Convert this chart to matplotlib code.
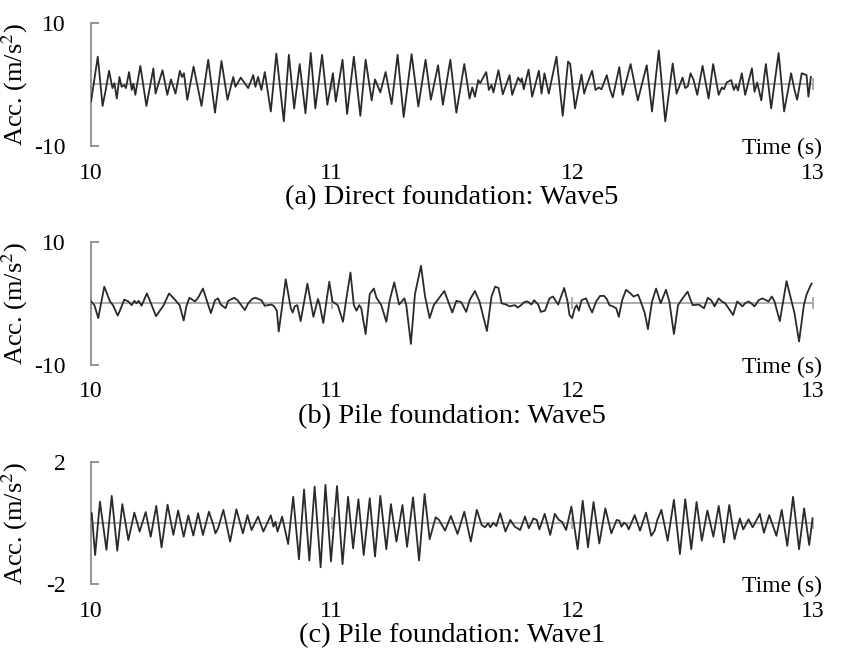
import matplotlib
matplotlib.use("Agg")
import matplotlib.pyplot as plt

plt.rcParams["font.family"] = ["Liberation Serif", "DejaVu Serif"]
plt.rcParams["mathtext.fontset"] = "stix"
plt.rcParams["axes.unicode_minus"] = False

# ---- data (turning points of each record) ----
# (a) Direct foundation: Wave5
t_a = [10.000, 10.028, 10.048, 10.061, 10.075, 10.089, 10.097, 10.107, 10.118, 10.127,
       10.138, 10.145, 10.158, 10.169, 10.176, 10.184, 10.205, 10.230, 10.259, 10.268,
       10.297, 10.317, 10.332, 10.351, 10.369, 10.378, 10.386, 10.400, 10.426, 10.459,
       10.487, 10.515, 10.542, 10.567, 10.591, 10.600, 10.622, 10.653, 10.674, 10.683,
       10.694, 10.708, 10.722, 10.747, 10.770, 10.801, 10.822, 10.844, 10.867, 10.891,
       10.913, 10.932, 10.960, 10.982, 11.005, 11.017, 11.045, 11.064, 11.092, 11.119,
       11.141, 11.166, 11.180, 11.202, 11.224, 11.249, 11.274, 11.299, 11.332, 11.360,
       11.390, 11.412, 11.442, 11.462, 11.493, 11.518, 11.551, 11.573, 11.584, 11.595,
       11.609, 11.617, 11.642, 11.653, 11.664, 11.672, 11.693, 11.711, 11.739, 11.750,
       11.775, 11.785, 11.790, 11.798, 11.818, 11.833, 11.861, 11.872, 11.884, 11.902,
       11.934, 11.960, 11.982, 11.991, 12.011, 12.038, 12.049, 12.060, 12.082, 12.096,
       12.110, 12.121, 12.143, 12.157, 12.168, 12.195, 12.209, 12.242, 12.272, 12.309,
       12.331, 12.359, 12.386, 12.417, 12.433, 12.458, 12.469, 12.480, 12.491, 12.503,
       12.519, 12.541, 12.566, 12.585, 12.608, 12.621, 12.630, 12.641, 12.660, 12.671,
       12.680, 12.688, 12.704, 12.718, 12.746, 12.757, 12.768, 12.785, 12.804, 12.826,
       12.857, 12.880, 12.909, 12.923, 12.934, 12.953, 12.973, 12.981, 12.991]
acc_a = [-2.8, 4.5, -3.5, -0.9, 2.2, -0.6, 0.2, -2.3, 1.2, -0.4,
         -0.1, -0.6, 2.0, -0.9, 0.1, -1.7, 3.0, -3.5, 2.6, -1.5,
         2.3, -1.7, 0.8, -1.5, 2.2, 1.2, 1.8, -2.5, 2.9, -3.5,
         4.0, -4.6, 3.8, -2.5, 1.2, -0.4, 1.1, -0.6, 1.5, -0.4,
         1.2, -0.9, 2.0, -4.4, 5.0, -6.0, 4.8, -3.9, 3.3, -4.7,
         5.1, -3.9, 4.8, -3.3, 1.8, -2.8, 4.0, -4.8, 4.5, -5.1,
         4.0, -2.6, 0.8, -1.3, 2.0, -3.2, 4.8, -5.3, 4.9, -3.6,
         4.0, -2.5, 3.1, -3.3, 4.0, -4.6, 3.3, -2.3, -0.5, -2.0,
         0.7, 0.2, 2.0, -0.9, -0.1, -1.3, 2.3, -1.6, 1.5, -1.7,
         1.1, 0.4, 1.0, -0.8, 2.4, -2.0, 2.2, -1.5, 1.8, -1.5,
         4.5, -5.1, 3.7, 3.3, -3.9, 1.6, -1.5, -0.1, 2.2, -0.9,
         -0.5, -0.8, 1.5, -0.9, -2.1, 2.8, -1.7, 3.3, -2.6, 3.1,
         -4.4, 5.5, -6.0, 3.4, -1.5, 1.1, -0.6, -0.3, 1.8, 0.8,
         -1.7, 3.0, -2.3, 3.3, -1.7, -0.5, -0.8, 0.3, 0.7, -0.9,
         -0.1, -1.0, 1.8, -1.7, 2.6, -1.2, 0.3, -2.6, 3.3, -3.9,
         5.1, -4.4, 1.8, -0.9, -2.5, 1.8, 1.5, -2.0, 1.2]

# (b) Pile foundation: Wave5
t_b = [10.000, 10.014, 10.030, 10.055, 10.079, 10.091, 10.111, 10.124, 10.138, 10.155,
       10.169, 10.180, 10.189, 10.198, 10.210, 10.232, 10.246, 10.270, 10.302, 10.324,
       10.346, 10.368, 10.385, 10.396, 10.409, 10.432, 10.445, 10.465, 10.498, 10.515,
       10.528, 10.539, 10.559, 10.570, 10.595, 10.609, 10.639, 10.653, 10.669, 10.683,
       10.708, 10.722, 10.750, 10.761, 10.772, 10.780, 10.809, 10.830, 10.838, 10.846,
       10.857, 10.871, 10.899, 10.924, 10.943, 10.950, 10.965, 10.990, 11.003, 11.025,
       11.047, 11.061, 11.078, 11.092, 11.103, 11.114, 11.123, 11.141, 11.158, 11.175,
       11.186, 11.206, 11.227, 11.241, 11.260, 11.280, 11.302, 11.310, 11.329, 11.346,
       11.371, 11.388, 11.407, 11.424, 11.468, 11.484, 11.501, 11.518, 11.538, 11.559,
       11.573, 11.595, 11.614, 11.645, 11.664, 11.679, 11.693, 11.706, 11.725, 11.739,
       11.761, 11.773, 11.787, 11.800, 11.814, 11.830, 11.841, 11.858, 11.869, 11.886,
       11.905, 11.919, 11.941, 11.966, 11.980, 11.988, 11.999, 12.010, 12.018, 12.027,
       12.038, 12.057, 12.068, 12.082, 12.099, 12.115, 12.132, 12.143, 12.154, 12.168,
       12.182, 12.193, 12.207, 12.223, 12.242, 12.254, 12.273, 12.284, 12.301, 12.314,
       12.331, 12.348, 12.367, 12.389, 12.403, 12.422, 12.439, 12.458, 12.479, 12.489,
       12.500, 12.525, 12.547, 12.563, 12.577, 12.591, 12.608, 12.621, 12.635, 12.668,
       12.685, 12.707, 12.718, 12.732, 12.743, 12.757, 12.774, 12.790, 12.815, 12.829,
       12.840, 12.862, 12.890, 12.906, 12.923, 12.942, 12.962, 12.973, 12.984, 12.994]
acc_b = [0.3, -0.3, -2.4, 2.7, 0.3, -0.3, -2.0, -0.8, 0.6, 0.3,
         -0.3, 0.4, 0.0, 0.4, -0.4, 1.6, 0.3, -2.1, -0.3, 1.6,
         0.7, -0.3, -2.8, -0.5, 0.9, 0.3, 0.9, 2.4, -1.6, 0.5,
         0.8, -0.2, -0.8, 0.4, 0.9, 0.5, -1.1, 0.0, 0.7, 0.9,
         0.5, -0.4, -0.2, -0.5, -1.2, -4.6, 3.9, -0.8, -1.5, -0.5,
         -0.3, -2.9, 3.2, -2.2, 0.7, -0.2, -3.2, 3.5, 0.3, -0.3,
         -3.0, 0.8, 5.0, -0.3, -1.2, -0.3, -0.8, -5.0, 1.5, 2.4,
         0.9, -0.3, -3.0, 0.5, 3.4, -0.2, 0.8, -0.3, -6.6, 1.5,
         6.1, 1.1, -2.4, -0.3, 2.0, 0.3, -1.5, 0.4, 0.2, -1.4,
         0.5, 2.0, 0.3, -4.5, 1.1, 2.7, 2.5, 0.0, -0.2, -0.5,
         -0.3, -0.7, -0.3, 0.2, 0.3, -0.2, 0.5, -0.2, -1.4, -1.2,
         0.8, 1.1, -0.2, 2.5, 0.3, -1.9, -2.4, -0.8, -0.3, -1.2,
         0.5, 0.8, -0.3, -1.5, 0.3, 1.2, 1.2, 0.7, -0.3, -0.5,
         -0.8, -2.2, 0.5, 2.2, 1.6, 1.1, 1.4, 0.3, -1.6, -4.2,
         0.3, 2.4, 0.0, 2.2, 0.3, -5.0, -0.3, 0.8, 1.9, 0.8,
         -0.3, -0.2, -0.8, 0.9, 0.5, -0.5, 0.8, 0.3, 0.0, -1.9,
         0.3, -0.5, 0.0, 0.3, 0.0, -0.5, 0.5, 0.8, 0.3, 1.1,
         0.3, -2.9, 3.6, 1.1, -1.6, -6.2, -0.3, 1.4, 2.4, 3.2]

# (c) Pile foundation: Wave1
t_c = [10.003, 10.017, 10.037, 10.064, 10.086, 10.109, 10.130, 10.155, 10.180, 10.202,
       10.227, 10.248, 10.271, 10.293, 10.318, 10.342, 10.362, 10.385, 10.404, 10.425,
       10.445, 10.465, 10.490, 10.508, 10.517, 10.528, 10.550, 10.578, 10.604, 10.631,
       10.650, 10.667, 10.694, 10.716, 10.747, 10.758, 10.766, 10.775, 10.794, 10.819,
       10.840, 10.864, 10.885, 10.907, 10.929, 10.954, 10.974, 10.997, 11.022, 11.045,
       11.068, 11.089, 11.111, 11.133, 11.158, 11.180, 11.202, 11.227, 11.246, 11.269,
       11.294, 11.313, 11.338, 11.363, 11.386, 11.407, 11.432, 11.446, 11.471, 11.495,
       11.523, 11.551, 11.578, 11.603, 11.623, 11.637, 11.650, 11.659, 11.672, 11.684,
       11.700, 11.722, 11.742, 11.761, 11.783, 11.803, 11.819, 11.838, 11.852, 11.863,
       11.885, 11.908, 11.927, 11.944, 11.957, 11.974, 11.996, 12.022, 12.043, 12.065,
       12.088, 12.112, 12.137, 12.162, 12.184, 12.195, 12.204, 12.215, 12.226, 12.234,
       12.259, 12.281, 12.306, 12.328, 12.342, 12.353, 12.370, 12.396, 12.422, 12.447,
       12.469, 12.494, 12.516, 12.538, 12.561, 12.586, 12.608, 12.630, 12.652, 12.674,
       12.696, 12.710, 12.732, 12.749, 12.757, 12.779, 12.796, 12.818, 12.848, 12.870,
       12.893, 12.917, 12.942, 12.963, 12.984, 12.998]
acc_c = [0.33, -1.04, 0.71, -0.87, 0.90, -0.90, 0.63, -0.55, 0.35, -0.27,
         0.37, -0.44, 0.57, -0.79, 0.61, -0.38, 0.42, -0.44, 0.26, -0.40,
         0.33, -0.38, 0.38, -0.05, -0.33, -0.16, 0.44, -0.60, 0.46, -0.33,
         0.27, -0.22, 0.22, -0.27, 0.26, -0.11, 0.05, -0.27, 0.22, -0.68,
         0.87, -1.18, 1.11, -1.22, 1.20, -1.44, 1.26, -1.25, 1.22, -1.34,
         0.87, -0.82, 0.79, -1.04, 0.82, -1.09, 0.90, -0.85, 0.63, -0.60,
         0.60, -0.77, 0.85, -1.22, 0.96, -0.52, 0.20, 0.11, -0.24, 0.24,
         -0.35, 0.38, -0.60, 0.44, -0.05, -0.13, 0.00, -0.13, 0.02, -0.09,
         0.33, -0.27, 0.11, -0.11, -0.22, 0.22, -0.16, 0.16, 0.11, -0.20,
         0.31, -0.38, 0.31, 0.11, 0.05, -0.22, 0.55, -0.85, 0.74, -0.79,
         0.70, -0.66, 0.49, -0.33, 0.11, 0.09, -0.11, 0.02, -0.05, -0.20,
         0.27, -0.24, 0.35, -0.41, -0.24, 0.11, 0.44, -0.57, 0.77, -1.01,
         0.79, -0.85, 0.70, -0.57, 0.42, -0.44, 0.57, -0.63, 0.60, -0.52,
         0.16, -0.20, 0.13, -0.13, -0.02, 0.31, -0.31, 0.27, -0.41, 0.44,
         -0.74, 0.87, -0.85, 0.49, -0.71, 0.16]

panels = [
    (t_a, acc_a, 10, ["10", "-10"], "(a) Direct foundation: Wave5"),
    (t_b, acc_b, 10, ["10", "-10"], "(b) Pile foundation: Wave5"),
    (t_c, acc_c, 2, ["2", "-2"], "(c) Pile foundation: Wave1"),
]
time_ticks = [10, 11, 12, 13]

# axes rectangles in figure fractions
rects = [
    [0.1071, 0.7791, 0.8494, 0.1865],
    [0.1071, 0.4481, 0.8494, 0.1861],
    [0.1071, 0.1160, 0.8494, 0.1846],
]

spine_gray = "#8c8c8c"
zero_gray = "#a6a6a6"

fig = plt.figure(figsize=(8.5, 6.61), dpi=100)
for (t, acc, lim, ylabels, caption), rect in zip(panels, rects):
    ax = fig.add_axes(rect)
    ax.plot(t, acc, color="#2a2a2a", linewidth=1.3, solid_joinstyle="round", zorder=3)
    ax.set_xlim(10, 13)
    ax.set_ylim(-lim, lim)

    ax.spines["top"].set_visible(False)
    ax.spines["right"].set_visible(False)
    ax.spines["left"].set_color(spine_gray)
    ax.spines["left"].set_linewidth(1.3)
    ax.spines["bottom"].set_position(("data", 0))
    ax.spines["bottom"].set_color(zero_gray)
    ax.spines["bottom"].set_linewidth(1.3)

    ax.set_yticks([lim, -lim])
    ax.set_yticklabels(ylabels)
    ax.tick_params(axis="y", direction="in", length=6, width=1.3, color=spine_gray,
                   pad=18, labelsize=17)
    ax.set_xticks(time_ticks)
    ax.tick_params(axis="x", direction="inout", length=9, width=1.3, color=zero_gray,
                   labelbottom=False)

    sec = ax.secondary_xaxis(0)
    sec.set_xticks(time_ticks)
    sec.spines["bottom"].set_visible(False)
    sec.tick_params(length=0, pad=12, labelsize=17)

    ax.set_ylabel("Acc. (m/s$^{2}$)", fontsize=19, labelpad=0)
    ax.yaxis.set_label_coords(-0.085, 0.5)
    ax.text(1.012, -0.02, "Time (s)", transform=ax.transAxes, ha="right", va="center",
            fontsize=17)
    ax.text(0.5, -0.42, caption, transform=ax.transAxes, ha="center", va="center",
            fontsize=20.5)

fig.savefig("out.png", dpi=100)
